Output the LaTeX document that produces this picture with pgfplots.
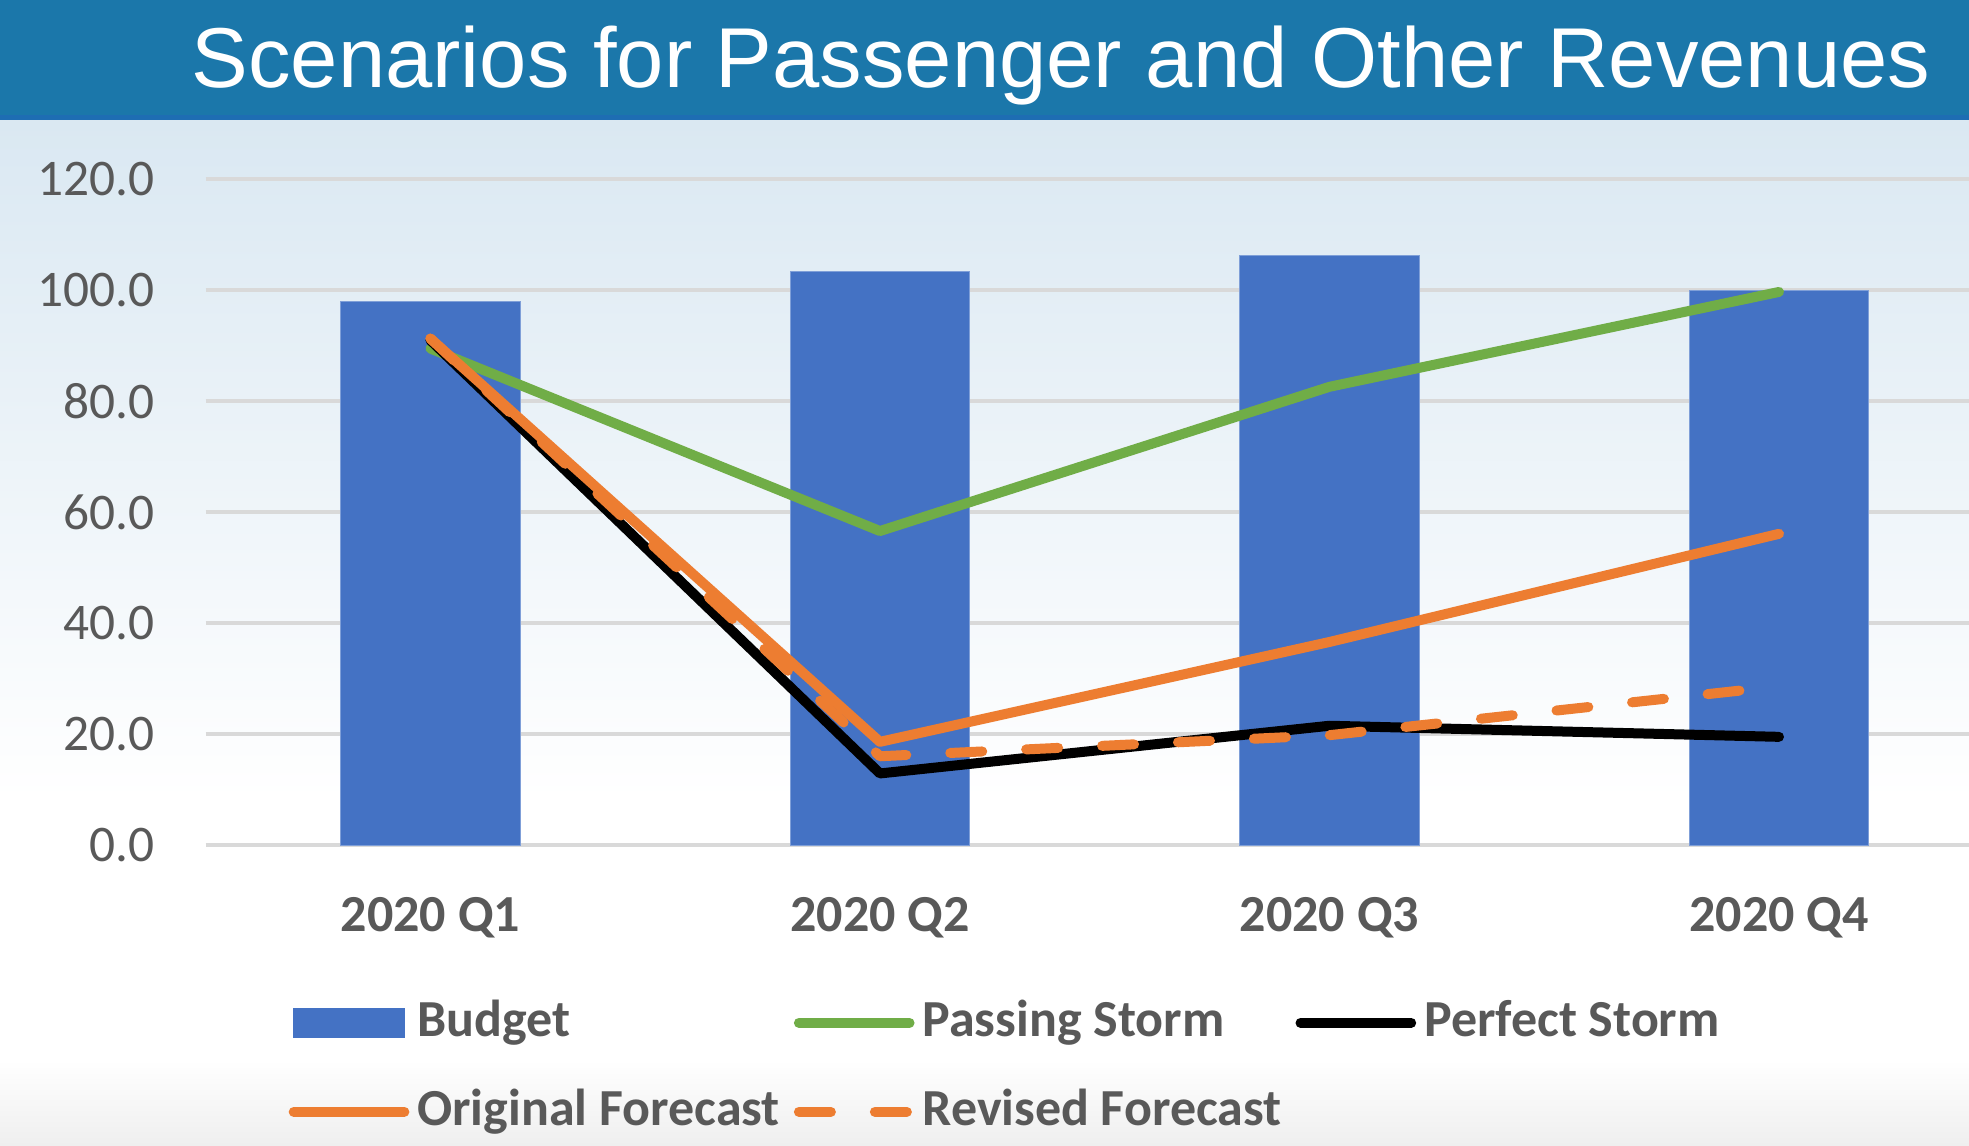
\documentclass[border=0pt]{standalone}
\usepackage{fontspec}
\setmainfont{Carlito}
\newfontfamily\titlefont{Liberation Sans}
\usepackage{pgfplots}
\pgfplotsset{compat=1.18}
\definecolor{bandblue}{HTML}{1B77AA}
\definecolor{stripeblue}{HTML}{1E6DB3}
\definecolor{bgtop}{HTML}{DAE8F2}
\definecolor{bgbot}{HTML}{EFEFEF}
\definecolor{barblue}{HTML}{4472C4}
\definecolor{baredge}{HTML}{7F9FD8}
\definecolor{pgreen}{HTML}{70AD47}
\definecolor{porange}{HTML}{ED7D31}
\definecolor{txtgray}{HTML}{595959}
\definecolor{gridgray}{HTML}{D9D9D9}
\begin{document}
\begin{tikzpicture}
\useasboundingbox (0,0) rectangle (590.7pt,343.5pt);
\fill[bandblue] (0,309.0pt) rectangle (590.7pt,343.5pt);
\fill[stripeblue] (0,307.2pt) rectangle (590.7pt,309.0pt);
\shade[top color=bgtop, bottom color=white] (0,103.5pt) rectangle (590.7pt,307.2pt);
\fill[white] (0,25.5pt) rectangle (590.7pt,103.5pt);
\shade[top color=white, bottom color=bgbot] (0,0) rectangle (590.7pt,25.5pt);
\node[anchor=base west, inner sep=0pt, text=white, font=\titlefont\fontsize{25.5}{30}\selectfont] at (57.3pt,317.1pt) {Scenarios for Passenger and Other Revenues};
\begin{axis}[
  at={(61.7pt,90pt)}, anchor=south west,
  scale only axis, width=529pt, height=199.7pt,
  xmin=-0.5, xmax=3.4227, ymin=0, ymax=120,
  axis line style={draw=none},
  major tick length=0pt,
  ytick={0,20,...,120},
  ymajorgrids, grid style={gridgray, line width=1.2pt},
  xtick={0,1,2,3}, xticklabels={2020 Q1,2020 Q2,2020 Q3,2020 Q4},
  /pgf/number format/assume math mode=true,
  yticklabel style={/pgf/number format/.cd, fixed, fixed zerofill, precision=1, /tikz/.cd, font=\fontsize{15.4}{18}\selectfont, text=txtgray, anchor=east, inner sep=0pt, xshift=-15.2pt},
  xticklabel style={font=\bfseries\fontsize{15.6}{18}\selectfont, text=txtgray, anchor=base, inner sep=0pt, yshift=-25.8pt},
  legend columns=3,
  legend cell align=left,
  legend style={at={(0.0467,-0.226)}, anchor=north west, draw=none, fill=none, inner sep=0pt,
    font=\bfseries\fontsize{15.6}{18}\selectfont, text=txtgray, column sep=2.4pt, row sep=10.7pt,
    nodes={inner sep=0pt, text height=12pt, text depth=4pt},
    /tikz/every even column/.append style={column sep=4.2pt}},
  legend image code/.code={\draw[#1] (0pt,0pt) -- (33.2pt,0pt);},
]
\addplot[ybar, bar width=0.4, fill=barblue, draw=baredge, line width=0.3pt,
  legend image code/.code={\fill[barblue] (0pt,-4.35pt) rectangle (33.2pt,4.35pt);}]
  coordinates {(0,97.9) (1,103.4) (2,106.2) (3,99.9)};
\addlegendentry{Budget}
\addplot[pgreen, line width=3pt, line cap=round, line join=round]
  coordinates {(0,89.5) (1,56.6) (2,82.6) (3,99.7)};
\addlegendentry{Passing Storm}
\addplot[black, line width=3pt, line cap=round, line join=round]
  coordinates {(0,91.0) (1,12.9) (2,21.5) (3,19.5)};
\addlegendentry{Perfect Storm}
\addplot[porange, line width=3pt, line cap=round, line join=round]
  coordinates {(0,91.3) (1,18.6) (2,36.6) (3,56.1)};
\addlegendentry{Original Forecast}
\addplot[porange, line width=3pt, line cap=round, line join=round, dash pattern=on 9.6pt off 13.2pt]
  coordinates {(0,91.3) (1,16.0) (2,19.8) (3,28.6)};
\addlegendentry{Revised Forecast}
\end{axis}
\end{tikzpicture}
\end{document}
